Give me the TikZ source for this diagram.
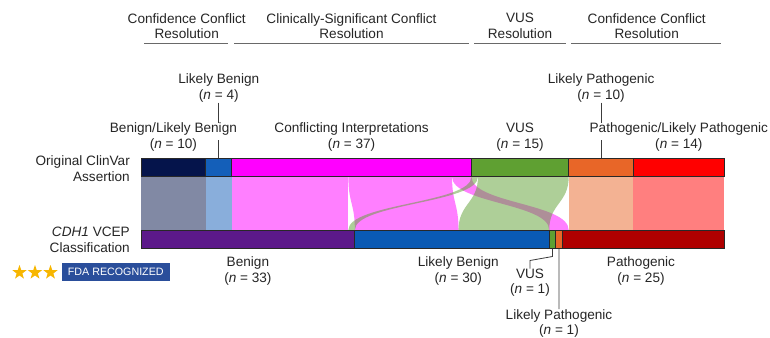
\documentclass[tikz,border=0pt]{standalone}
\usepackage{fontspec}
\setmainfont{Liberation Sans}
\usetikzlibrary{shapes.geometric}
\definecolor{txtc}{RGB}{38,38,38}
\definecolor{rulec}{RGB}{105,105,105}
\definecolor{linec}{RGB}{60,60,60}
\definecolor{edgec}{RGB}{40,40,40}
\definecolor{navyc}{RGB}{5,20,75}
\definecolor{lbluec}{RGB}{20,95,185}
\definecolor{magc}{RGB}{255,0,255}
\definecolor{grnc}{RGB}{95,160,50}
\definecolor{orgc}{RGB}{232,102,40}
\definecolor{redc}{RGB}{255,0,0}
\definecolor{purc}{RGB}{92,25,138}
\definecolor{bluec}{RGB}{10,90,180}
\definecolor{dredc}{RGB}{175,0,0}
\definecolor{goldc}{RGB}{247,182,0}
\definecolor{badgec}{RGB}{42,78,155}
\begin{document}
\begin{tikzpicture}[x=1pt, y=-1pt,
    lbl/.style={align=center, inner sep=0pt, text=txtc, font=\fontsize{13.6}{15.7}\selectfont},
    seg/.style={draw=edgec, line width=0.9pt, inner sep=0pt, outer sep=0pt, minimum height=18.7pt},
    conn/.style={draw=linec, line width=0.8pt},
    hrule/.style={draw=rulec, line width=1.4pt},
    flow/.style={fill opacity=0.5}]
    \useasboundingbox[fill=white] (0,0) rectangle (770,337);

    % headers
    \node [lbl] (hdA) at (186.7,26) {Confidence Conflict\\Resolution};
    \node [lbl] (hdB) at (351.5,26) {Clinically-Significant Conflict\\Resolution};
    \node [lbl] (hdC) at (520,26) {VUS\\Resolution};
    \node [lbl] (hdD) at (646.7,26) {Confidence Conflict\\Resolution};
    \draw [hrule] (144,43.3) -- (228,43.3);
    \draw [hrule] (234,43.3) -- (469.3,43.3);
    \draw [hrule] (474,43.3) -- (565.7,43.3);
    \draw [hrule] (571,43.3) -- (721,43.3);

    % flows
    \fill [flow, navyc] (141,176.7) rectangle (205.8,230);
    \fill [flow, lbluec] (205.8,176.7) rectangle (231.72,230);
    \fill [flow, magc] (231.72,176.7) rectangle (348.36,230);
    \fill [flow, magc] (348.36,176.7) .. controls (348.36,203.35) and (354.84,203.35) .. (354.84,230) -- (458.52,230) .. controls (458.52,203.35) and (452.04,203.35) .. (452.04,176.7) -- cycle;
    \fill [flow, magc] (452.04,176.7) .. controls (452.04,203.35) and (549.24,203.35) .. (549.24,230) -- (568.68,230) .. controls (568.68,203.35) and (471.48,203.35) .. (471.48,176.7) -- cycle;
    \fill [flow, grnc] (471.48,176.7) .. controls (471.48,203.35) and (348.36,203.35) .. (348.36,230) -- (354.84,230) .. controls (354.84,203.35) and (477.96,203.35) .. (477.96,176.7) -- cycle;
    \fill [flow, grnc] (477.96,176.7) .. controls (477.96,203.35) and (458.52,203.35) .. (458.52,230) -- (549.24,230) .. controls (549.24,203.35) and (568.68,203.35) .. (568.68,176.7) -- cycle;
    \fill [flow, orgc] (568.68,176.7) rectangle (633.48,230);
    \fill [flow, redc] (633.48,176.7) rectangle (724.2,230);

    % original assertion bar
    \node [seg, fill=navyc, minimum width=64.8pt] (tBL) at (173.4,167.35) {};
    \node [seg, fill=lbluec, minimum width=25.92pt] (tLB) at (218.76,167.35) {};
    \node [seg, fill=magc, minimum width=239.76pt] (tCI) at (351.6,167.35) {};
    \node [seg, fill=grnc, minimum width=97.2pt] (tVUS) at (520.08,167.35) {};
    \node [seg, fill=orgc, minimum width=64.8pt] (tLP) at (601.08,167.35) {};
    \node [seg, fill=redc, minimum width=90.72pt] (tPLP) at (678.84,167.35) {};

    % VCEP bar
    \node [seg, fill=purc, minimum width=213.84pt] (bB) at (247.92,239.35) {};
    \node [seg, fill=bluec, minimum width=194.4pt] (bLB) at (452.04,239.35) {};
    \node [seg, fill=grnc, minimum width=6.48pt] (bVUS) at (552.48,239.35) {};
    \node [seg, fill=orgc, minimum width=6.48pt] (bLP) at (558.96,239.35) {};
    \node [seg, fill=dredc, minimum width=162pt] (bP) at (643.2,239.35) {};

    % row labels
    \node [lbl, align=right, anchor=east] (rowTop) at (130,168.5) {Original ClinVar\\Assertion};
    \node [lbl, align=right, anchor=east] (rowBot) at (130,240) {\textit{CDH1} VCEP\\Classification};

    % top labels
    \node [lbl] (lLB) at (218.76,88.2) {Likely Benign\\(\textit{n} = 4)};
    \node [lbl] (lLP) at (601.08,88.2) {Likely Pathogenic\\(\textit{n} = 10)};
    \node [lbl] (lBLB) at (173.4,137) {Benign/Likely Benign\\(\textit{n} = 10)};
    \node [lbl] (lCI) at (351.6,137) {Conflicting Interpretations\\(\textit{n} = 37)};
    \node [lbl] (lVUS) at (520.08,137) {VUS\\(\textit{n} = 15)};
    \node [lbl] (lPLP) at (678.84,137) {Pathogenic/Likely Pathogenic\\(\textit{n} = 14)};
    \coordinate (kLB) at (218.76,140);
    \coordinate (kLP) at (601.08,140);
    \draw [conn] (lLB.south) -- (lLB.south |- lBLB.north);
    \draw [conn] (kLB) -- (tLB.north);
    \draw [conn] (lLP.south) -- (lLP.south |- lPLP.north);
    \draw [conn] (kLP) -- (tLP.north);

    % bottom labels
    \node [lbl] (lB) at (247.9,271) {Benign\\(\textit{n} = 33)};
    \node [lbl] (lLBb) at (458.3,271) {Likely Benign\\(\textit{n} = 30)};
    \node [lbl] (lPb) at (641,271) {Pathogenic\\(\textit{n} = 25)};
    \node [lbl] (lVUSb) at (530,282.8) {VUS\\(\textit{n} = 1)};
    \node [lbl] (lLPb) at (559,323.5) {Likely Pathogenic\\(\textit{n} = 1)};
    \draw [conn] (bVUS.south) -- (552.48,256.5) -- (530,260.5) -- (lVUSb.north);
    \draw [conn] (bLP.south) -- (lLPb.north);

    % rating badge
    \node [star, star points=5, star point ratio=2.5, fill=goldc, minimum size=15pt, inner sep=0pt] (st1) at (19.5,272.5) {};
    \node [star, star points=5, star point ratio=2.5, fill=goldc, minimum size=15pt, inner sep=0pt] (st2) at (35,272.5) {};
    \node [star, star points=5, star point ratio=2.5, fill=goldc, minimum size=15pt, inner sep=0pt] (st3) at (50.5,272.5) {};
    \node [fill=badgec, text=white, font=\fontsize{10.7}{12}\selectfont, minimum width=108.3pt, minimum height=17.4pt, inner sep=0pt] (fda) at (115.8,272) {FDA RECOGNIZED};
\end{tikzpicture}
\end{document}
